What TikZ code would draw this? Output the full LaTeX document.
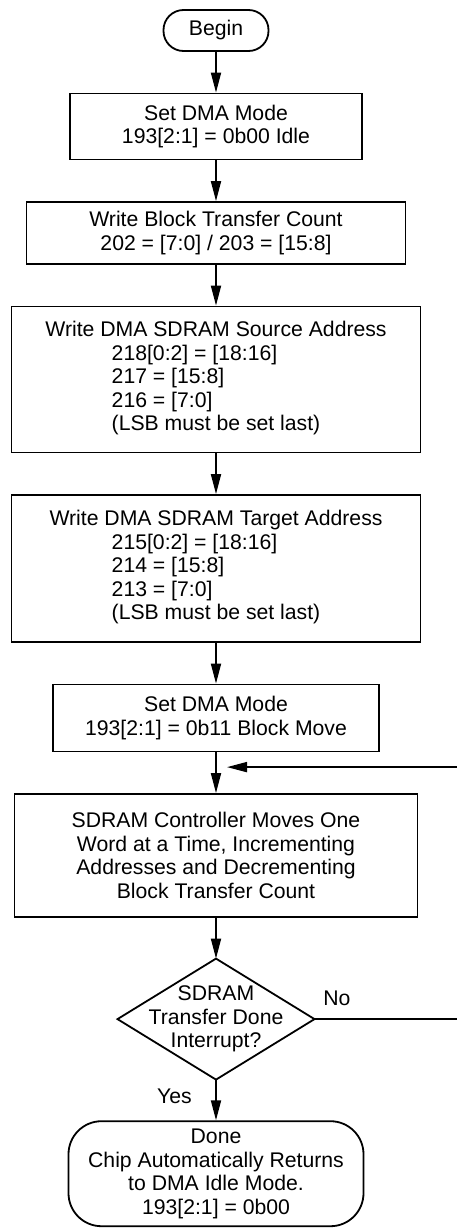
\documentclass[tikz,border=0pt]{standalone}
\usepackage{fontspec}
\setmainfont{Liberation Sans}
\usetikzlibrary{arrows.meta, positioning, calc}
\tikzset{
  stepbox/.style={draw=black, line width=1.8pt, align=center, inner sep=0pt,
                  font=\fontsize{21.2}{23.6}\selectfont},
  term/.style={stepbox, rounded corners=20pt},
  lbl/.style={font=\fontsize{21.2}{23.6}\selectfont},
  flow/.style={-{Triangle[length=20pt, width=10pt]}, line width=1.8pt, draw=black},
}
\begin{document}
\begin{tikzpicture}[x=1pt, y=-1pt, node distance=40.7pt]
  \useasboundingbox (0,0) rectangle (457,1229);
  \node (begin) [term, minimum width=105pt, minimum height=41pt] at (216,30.5) {Begin};
  \node (idle)  [stepbox, minimum width=292pt, minimum height=66pt, below=of begin]
                {Set DMA Mode\\193[2:1] = 0b00 Idle};
  \node (count) [stepbox, minimum width=379pt, minimum height=62pt, below=of idle]
                {Write Block Transfer Count\\202 = [7:0] / 203 = [15:8]};
  \node (src)   [stepbox, minimum width=409pt, minimum height=146pt, below=of count]
                {Write DMA SDRAM Source Address\\
                 \begin{tabular}[t]{@{}l@{}}218[0:2] = [18:16]\\217 = [15:8]\\216 = [7:0]\\(LSB must be set last)\end{tabular}};
  \node (dst)   [stepbox, minimum width=409pt, minimum height=147pt, below=of src]
                {Write DMA SDRAM Target Address\\
                 \begin{tabular}[t]{@{}l@{}}215[0:2] = [18:16]\\214 = [15:8]\\213 = [7:0]\\(LSB must be set last)\end{tabular}};
  \node (move)  [stepbox, minimum width=326pt, minimum height=67pt, below=of dst]
                {Set DMA Mode\\193[2:1] = 0b11 Block Move};
  \node (sdram) [stepbox, minimum width=403pt, minimum height=123pt, below=of move]
                {SDRAM Controller Moves One\\Word at a Time, Incrementing\\Addresses and Decrementing\\Block Transfer Count};
  \node (dec)   [lbl, align=center, inner sep=0pt, outer sep=0pt,
                 minimum width=197pt, minimum height=121pt, below=of sdram]
                {SDRAM\\Transfer Done\\Interrupt?};
  \draw[line width=1.8pt] (dec.north) -- (dec.east) -- (dec.south) -- (dec.west) -- cycle;
  \node (done)  [term, rounded corners=33pt, minimum width=295pt, minimum height=105pt, below=of dec]
                {Done\\Chip Automatically Returns\\to DMA Idle Mode.\\193[2:1] = 0b00};

  \draw[flow] (begin) -- (idle);
  \draw[flow] (idle) -- (count);
  \draw[flow] (count) -- (src);
  \draw[flow] (src) -- (dst);
  \draw[flow] (dst) -- (move);
  \draw[flow] (move) -- (sdram);
  \draw[flow] (sdram) -- (dec);
  \draw[flow] (dec) -- node[lbl, pos=0.4, left=20pt] (yes) {Yes} (done);

  % loop back, runs off the right edge
  \coordinate (join) at ($(sdram.north)+(11pt,26pt)$);
  \coordinate (edge) at (475,0);
  \draw[flow] (dec.east) -- node[lbl, pos=0.14, above=9pt] (no) {No} (dec.east -| edge) |- (join);
\end{tikzpicture}
\end{document}
